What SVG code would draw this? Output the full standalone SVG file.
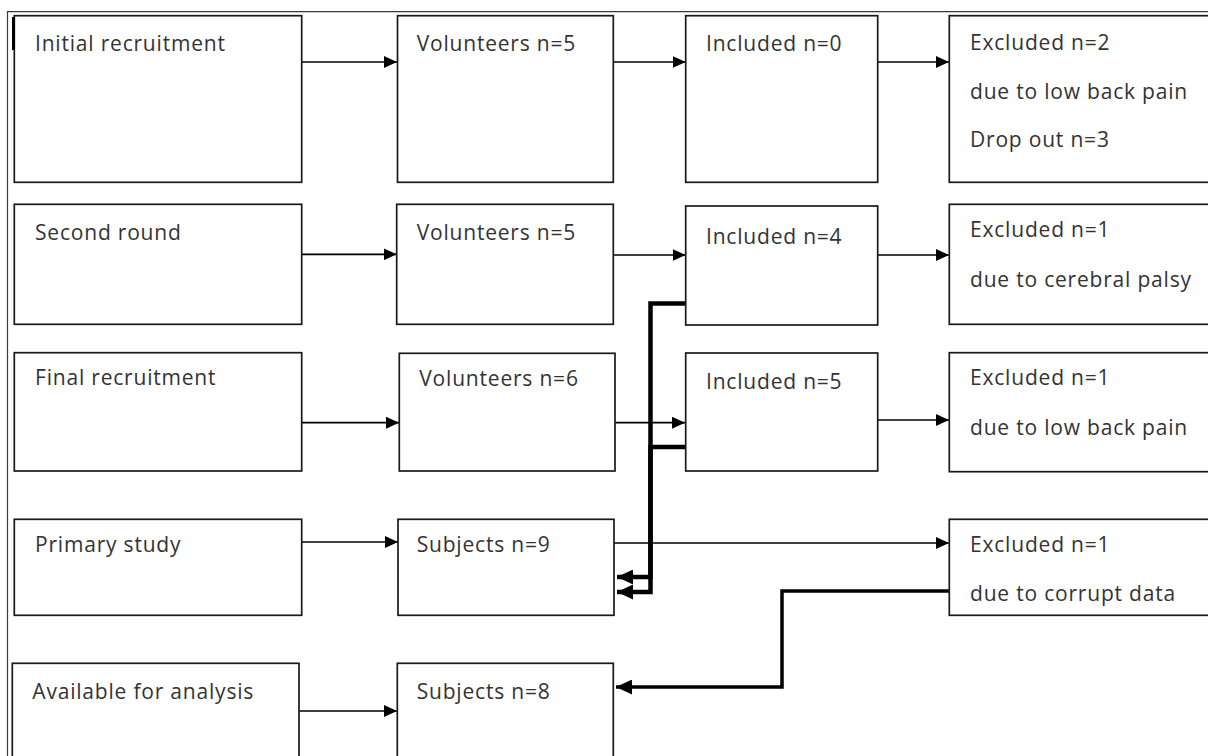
<svg xmlns="http://www.w3.org/2000/svg" width="1208" height="756" viewBox="0 0 1208 756">
<defs>
<style>
.box{fill:#fff;stroke:#1a1a1a;stroke-width:1.7}
.t{font-family:"Open Sans","Noto Sans","Liberation Sans",sans-serif;font-size:21px;letter-spacing:0.8px;fill:#333}
.thin{fill:none;stroke:#000;stroke-width:1.7}
.thick{fill:none;stroke:#000;stroke-width:4.5;stroke-linejoin:miter}
.thick2{fill:none;stroke:#000;stroke-width:3.5;stroke-linejoin:miter}
.frame{fill:none;stroke:#3a3a3a;stroke-width:1.2}
</style>
<marker id="ah" viewBox="0 0 13 12" refX="13" refY="6" markerWidth="13" markerHeight="12" markerUnits="userSpaceOnUse" orient="auto">
<path d="M0,0 L13,6 L0,12 Z" fill="#000"/>
</marker>
<marker id="ahb" viewBox="0 0 16 15" refX="16" refY="7.5" markerWidth="16" markerHeight="15" markerUnits="userSpaceOnUse" orient="auto">
<path d="M0,0 L16,7.5 L0,15 Z" fill="#000"/>
</marker>
</defs>
<rect width="1208" height="756" fill="#fff"/>
<path class="frame" d="M7.5,760 V11.7 H1210"/>

<g id="connectors">
<line class="thin" x1="301.7" y1="62" x2="397" y2="62" marker-end="url(#ah)"/>
<line class="thin" x1="613.3" y1="62" x2="685.7" y2="62" marker-end="url(#ah)"/>
<line class="thin" x1="878" y1="62" x2="949" y2="62" marker-end="url(#ah)"/>
<line class="thin" x1="301.7" y1="254.3" x2="396.7" y2="254.3" marker-end="url(#ah)"/>
<line class="thin" x1="613.3" y1="255" x2="685.7" y2="255" marker-end="url(#ah)"/>
<line class="thin" x1="878" y1="255" x2="949" y2="255" marker-end="url(#ah)"/>
<line class="thin" x1="301.7" y1="422.7" x2="399" y2="422.7" marker-end="url(#ah)"/>
<line class="thin" x1="611" y1="422.7" x2="685" y2="422.7" marker-end="url(#ah)"/>
<line class="thin" x1="878" y1="420" x2="949" y2="420" marker-end="url(#ah)"/>
<line class="thin" x1="301.7" y1="542" x2="398" y2="542" marker-end="url(#ah)"/>
<line class="thin" x1="614" y1="543" x2="949" y2="543" marker-end="url(#ah)"/>
<line class="thin" x1="299" y1="711" x2="397" y2="711" marker-end="url(#ah)"/>
<polyline class="thick" points="685.7,303.5 650.5,303.5 650.5,592 617,592" marker-end="url(#ahb)"/>
<polyline class="thick" points="685.7,447 650.5,447 650.5,577 617,577" marker-end="url(#ahb)"/>
<polyline class="thick2" points="949,591 782,591 782,687 616,687" marker-end="url(#ahb)"/>
</g>

<g id="n-initial"><rect class="box" x="14.3" y="15.7" width="287.4" height="166.6"/><text class="t" x="35" y="50.7">Initial recruitment</text></g>
<line x1="13.5" y1="17" x2="13.5" y2="50" stroke="#000" stroke-width="3"/>
<g id="n-vol1"><rect class="box" x="397.5" y="15.7" width="215.8" height="166.6"/><text class="t" x="416.7" y="50.7">Volunteers n=5</text></g>
<g id="n-inc0"><rect class="box" x="685.7" y="15.7" width="192" height="166.6"/><text class="t" x="706" y="50.7">Included n=0</text></g>
<g id="n-exc2"><rect class="box" x="949.3" y="15.7" width="262" height="166.6"/><text class="t" x="970" y="50">Excluded n=2</text><text class="t" x="970" y="99">due to low back pain</text><text class="t" x="970" y="147">Drop out n=3</text></g>

<g id="n-second"><rect class="box" x="14.3" y="204.3" width="287.4" height="120"/><text class="t" x="35" y="240">Second round</text></g>
<g id="n-vol2"><rect class="box" x="396.7" y="204.3" width="216.6" height="120"/><text class="t" x="416.7" y="240">Volunteers n=5</text></g>
<g id="n-inc4"><rect class="box" x="685.7" y="206" width="192" height="119"/><text class="t" x="706" y="244">Included n=4</text></g>
<g id="n-exc1a"><rect class="box" x="949.3" y="204.3" width="262" height="120"/><text class="t" x="970" y="237.3">Excluded n=1</text><text class="t" x="970" y="287.3">due to cerebral palsy</text></g>

<g id="n-final"><rect class="box" x="14.3" y="352.7" width="287.4" height="118.3"/><text class="t" x="35" y="385">Final recruitment</text></g>
<g id="n-vol3"><rect class="box" x="399.3" y="353.3" width="215.7" height="117.7"/><text class="t" x="419.3" y="385.7">Volunteers n=6</text></g>
<g id="n-inc5"><rect class="box" x="685.7" y="353" width="192" height="118"/><text class="t" x="706" y="389">Included n=5</text></g>
<g id="n-exc1b"><rect class="box" x="949.3" y="352.7" width="262" height="119"/><text class="t" x="970" y="385">Excluded n=1</text><text class="t" x="970" y="435">due to low back pain</text></g>

<g id="n-primary"><rect class="box" x="14.3" y="519.3" width="287.4" height="96"/><text class="t" x="35" y="551.7">Primary study</text></g>
<g id="n-sub9"><rect class="box" x="398" y="519.3" width="216" height="96"/><text class="t" x="416.7" y="551.7">Subjects n=9</text></g>
<g id="n-exc1c"><rect class="box" x="949.3" y="519.3" width="262" height="96"/><text class="t" x="970" y="551.7">Excluded n=1</text><text class="t" x="970" y="601">due to corrupt data</text></g>

<g id="n-avail"><rect class="box" x="12.3" y="663.3" width="286.7" height="100"/><text class="t" x="32.3" y="699.3">Available for analysis</text></g>
<g id="n-sub8"><rect class="box" x="397.3" y="663.3" width="216" height="100"/><text class="t" x="416.7" y="699.3">Subjects n=8</text></g>
</svg>
